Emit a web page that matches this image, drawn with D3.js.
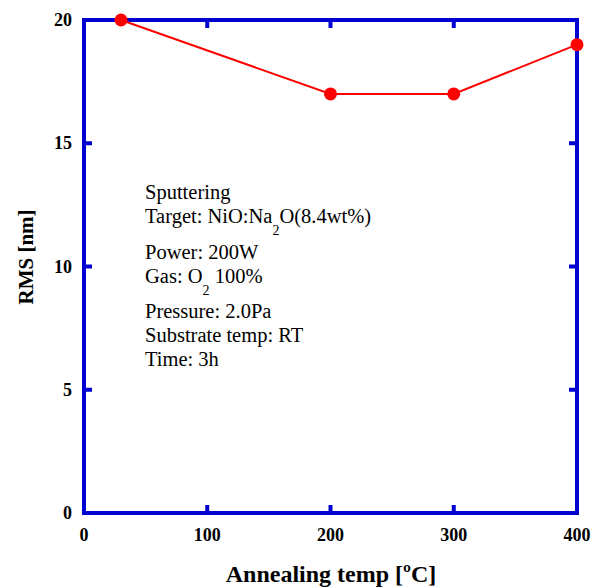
<!DOCTYPE html>
<html><head><meta charset="utf-8">
<script src="https://cdn.jsdelivr.net/npm/d3@7"></script>
<style>body{margin:0;background:#fff;} svg{display:block;}</style>
</head><body>
<svg id="c" width="595" height="588"></svg>
<script>
const temps = [30, 200, 300, 400];
const rms = [20, 17, 17, 19];
const xTicks = [0, 100, 200, 300, 400];
const yTicks = [0, 5, 10, 15, 20];
const notes = [
  ["Sputtering"],
  ["Target: NiO:Na", "2", "O(8.4wt%)"],
  ["Power: 200W"],
  ["Gas: O", "2", " 100%"],
  ["Pressure: 2.0Pa"],
  ["Substrate temp: RT"],
  ["Time: 3h"]
];
const noteY = [199, 223, 259, 283, 318, 342, 366];

const svg = d3.select("#c");
const L = 84, R = 577, T = 20, B = 513;
const x = d3.scaleLinear().domain([0, 400]).range([L, R]);
const y = d3.scaleLinear().domain([0, 20]).range([B, T]);
const blue = "#0000d0";
const serif = "'Liberation Serif', 'Times New Roman', serif";
const tickFont = "bold 18px " + serif;

// ticks inward
const inner = [100, 200, 300];
const g = svg.append("g");
inner.forEach(v => {
  g.append("line").attr("x1", x(v)).attr("x2", x(v)).attr("y1", B).attr("y2", B - 8).attr("stroke", blue).attr("stroke-width", 4);
  g.append("line").attr("x1", x(v)).attr("x2", x(v)).attr("y1", T).attr("y2", T + 8).attr("stroke", blue).attr("stroke-width", 4);
});
[5, 10, 15].forEach(v => {
  g.append("line").attr("x1", L).attr("x2", L + 8).attr("y1", y(v)).attr("y2", y(v)).attr("stroke", blue).attr("stroke-width", 4);
  g.append("line").attr("x1", R).attr("x2", R - 8).attr("y1", y(v)).attr("y2", y(v)).attr("stroke", blue).attr("stroke-width", 4);
});
g.append("rect").attr("x", L).attr("y", T).attr("width", R - L).attr("height", B - T)
  .attr("fill", "none").attr("stroke", blue).attr("stroke-width", 4);

// tick labels
svg.selectAll(".xl").data(xTicks).enter().append("text")
  .attr("x", d => x(d)).attr("y", 541).attr("text-anchor", "middle")
  .style("font", tickFont).text(d => d);
svg.selectAll(".yl").data(yTicks).enter().append("text")
  .attr("x", 72).attr("y", d => y(d) + 6).attr("text-anchor", "end")
  .style("font", tickFont).text(d => d);

// axis titles
svg.append("text").attr("x", 331).attr("y", 582).attr("text-anchor", "middle")
  .style("font", "bold 24px " + serif).text("Annealing temp [ºC]");
svg.append("text").attr("transform", "translate(33,257) rotate(-90)").attr("text-anchor", "middle")
  .style("font", "bold 21px " + serif).text("RMS [nm]");

// line + markers
const pts = temps.map((t, i) => [t, rms[i]]);
svg.append("path").datum(pts)
  .attr("d", d3.line().x(d => x(d[0])).y(d => y(d[1])))
  .attr("fill", "none").attr("stroke", "#ff0000").attr("stroke-width", 2);
svg.selectAll(".pt").data(pts).enter().append("circle")
  .attr("cx", d => x(d[0])).attr("cy", d => y(d[1])).attr("r", 6.5).attr("fill", "#ff0000");

// notes
notes.forEach((parts, i) => {
  const t = svg.append("text").attr("x", 145).attr("y", noteY[i])
    .style("font", "20.5px " + serif);
  parts.forEach((p, j) => {
    const ts = t.append("tspan").text(p);
    if (parts.length > 1 && j === 1) ts.attr("dy", 12).style("font-size", "14px");
    if (parts.length > 1 && j === 2) ts.attr("dy", -12);
  });
});
</script>
</body></html>
